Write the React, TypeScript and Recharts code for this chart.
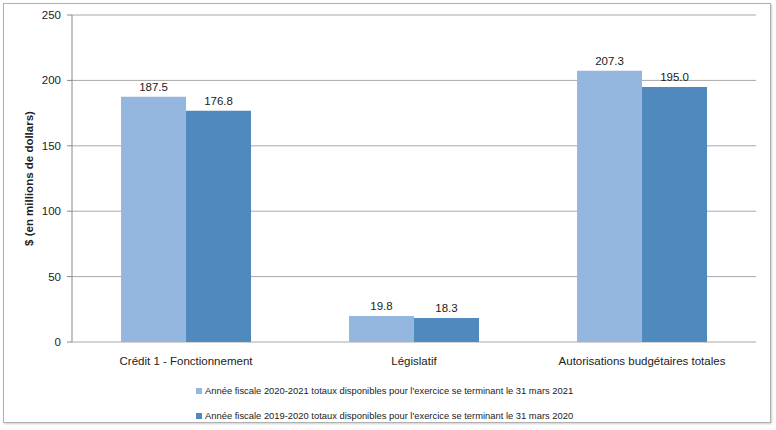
import React from 'react';
import { BarChart, Bar, XAxis, YAxis, CartesianGrid, LabelList } from 'recharts';

const categories = ['Crédit 1 - Fonctionnement', 'Législatif', 'Autorisations budgétaires totales'];
const values2021 = [187.5, 19.8, 207.3];
const values2020 = [176.8, 18.3, 195.0];
const seriesNames = [
  "Année fiscale 2020-2021 totaux disponibles pour l'exercice se terminant le 31 mars 2021",
  "Année fiscale 2019-2020 totaux disponibles pour l'exercice se terminant le 31 mars 2020",
];
const seriesColors = ['#95b7df', '#4f89bd'];
const yTicks = [0, 50, 100, 150, 200, 250];
const categoryEdges = [0, 1, 2, 3];

const data = categories.map((name, i) => ({ name, a: values2021[i], b: values2020[i] }));

const FONT = '"Liberation Sans", Arial, sans-serif';

export default function App() {
  return (
    <div style={{ position: 'absolute', left: 0, top: 0, width: 776, height: 430, background: '#fff', fontFamily: FONT }}>
      <div
        style={{
          position: 'absolute',
          left: 3,
          top: 3,
          width: 766,
          height: 418,
          border: '1px solid #b0b0b0',
          boxShadow: '1px 1px 2px rgba(0,0,0,0.2)',
          boxSizing: 'content-box',
        }}
      />
      <div style={{ position: 'absolute', left: 0, top: 0 }}>
        <BarChart
          width={776}
          height={430}
          data={data}
          margin={{ top: 15, right: 20, left: 0, bottom: 53 }}
          barCategoryGap="21.5%"
          barGap={0}
        >
          <CartesianGrid vertical={false} stroke="#a8a8a8" />
          <XAxis
            xAxisId="edges"
            type="number"
            domain={[0, 3]}
            ticks={categoryEdges}
            tick={false}
            height={0}
            tickSize={5}
            stroke="#8a8a8a"
            allowDataOverflow
          />
          <XAxis
            dataKey="name"
            height={35}
            axisLine={false}
            tickLine={false}
            tickMargin={9}
            tick={{ fill: '#222', fontSize: 11.5, fontFamily: FONT }}
            interval={0}
          />
          <YAxis
            domain={[0, 250]}
            ticks={yTicks}
            width={72}
            tickSize={5}
            tickMargin={6}
            stroke="#8a8a8a"
            tick={{ fill: '#222', fontSize: 11.5, fontFamily: FONT }}
            label={{
              value: '$ (en millions de dollars)',
              angle: -90,
              position: 'insideLeft',
              dx: 24,
              style: { textAnchor: 'middle', fontWeight: 'bold', fontSize: 11.5, fill: '#222', fontFamily: FONT },
            }}
          />
          <Bar dataKey="a" name={seriesNames[0]} fill={seriesColors[0]} isAnimationActive={false}>
            <LabelList dataKey="a" position="top" offset={6} formatter={(v: number) => v.toFixed(1)} style={{ fill: '#222', fontSize: 11.5, fontFamily: FONT }} />
          </Bar>
          <Bar dataKey="b" name={seriesNames[1]} fill={seriesColors[1]} isAnimationActive={false}>
            <LabelList dataKey="b" position="top" offset={6} formatter={(v: number) => v.toFixed(1)} style={{ fill: '#222', fontSize: 11.5, fontFamily: FONT }} />
          </Bar>
        </BarChart>
      </div>
      <div style={{ position: 'absolute', left: 196, top: 378, fontSize: 9.4, color: '#222', lineHeight: '25px' }}>
        {seriesNames.map((n, i) => (
          <div key={n} style={{ display: 'flex', alignItems: 'center', height: 25 }}>
            <span style={{ display: 'inline-block', width: 6, height: 6, background: seriesColors[i], marginRight: 3 }} />
            <span>{n}</span>
          </div>
        ))}
      </div>
    </div>
  );
}
